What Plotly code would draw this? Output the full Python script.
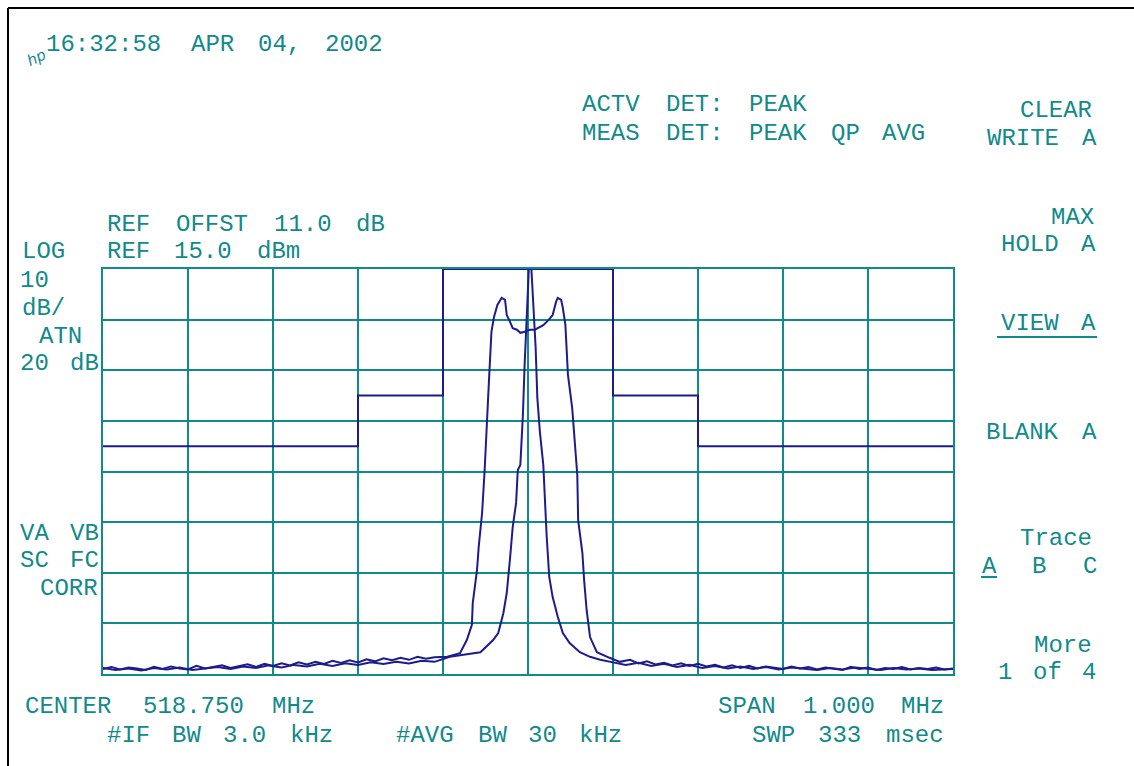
import plotly.graph_objects as go

# ---------------- data ----------------
# Limit mask (dBm) breakpoints, drawn as a step (hv)
mask_freq = [518.25, 518.55, 518.65, 518.85, 518.95, 519.25]
mask_level = [-20.0, -10.0, 15.0, -10.0, -20.0, -20.0]

# Trace 1 (wider modulated signal), MHz / dBm
sigA_freq = [518.250, 518.260, 518.270, 518.280, 518.290, 518.300, 518.310, 518.320,
             518.330, 518.340, 518.350, 518.360, 518.370, 518.380, 518.390, 518.400,
             518.410, 518.420, 518.430, 518.440, 518.450, 518.460, 518.470, 518.480,
             518.490, 518.500, 518.510, 518.520, 518.530, 518.540, 518.550, 518.560,
             518.570, 518.580, 518.590, 518.600, 518.610, 518.620, 518.630, 518.640,
             518.655, 518.670, 518.678, 518.684, 518.685, 518.690, 518.692, 518.696,
             518.699, 518.702, 518.704, 518.707, 518.710, 518.714, 518.719, 518.723,
             518.725, 518.729, 518.732, 518.737, 518.741, 518.746, 518.752, 518.758,
             518.764, 518.768, 518.774, 518.779, 518.783, 518.785, 518.789, 518.791,
             518.794, 518.797, 518.802, 518.805, 518.808, 518.809, 518.814, 518.816,
             518.819, 518.823, 518.831, 518.846, 518.858, 518.870, 518.880, 518.890,
             518.900, 518.910, 518.920, 518.930, 518.940, 518.950, 518.960, 518.970,
             518.980, 518.990, 519.000, 519.010, 519.020, 519.030, 519.040, 519.050,
             519.060, 519.070, 519.080, 519.090, 519.100, 519.110, 519.120, 519.130,
             519.140, 519.150, 519.160, 519.170, 519.180, 519.190, 519.200, 519.210,
             519.220, 519.230, 519.240, 519.250]
sigA_level = [-64.0, -63.6, -64.1, -63.7, -63.9, -64.2, -63.6, -64.0,
              -63.5, -63.9, -64.1, -63.4, -63.9, -63.6, -63.3, -63.8,
              -63.4, -63.1, -63.6, -63.0, -63.4, -62.9, -63.3, -62.7,
              -63.1, -62.6, -63.0, -62.4, -62.8, -62.3, -62.7, -62.1,
              -62.5, -61.9, -62.3, -61.8, -62.2, -61.6, -62.0, -61.7,
              -61.6, -60.9, -58.3, -55.3, -51.0, -44.5, -39.9, -33.2,
              -24.7, -15.8, -7.3, 2.6, 5.5, 7.9, 9.3, 8.9,
              5.9, 4.5, 3.3, 3.0, 2.4, 2.6, 3.0, 3.0,
              3.5, 3.9, 4.9, 5.9, 8.5, 9.3, 8.9, 7.3,
              3.9, -5.9, -12.5, -18.4, -25.7, -34.6, -41.1, -46.4,
              -52.4, -57.7, -60.7, -61.8, -62.6, -62.2, -62.9, -62.5,
              -63.1, -62.8, -63.3, -62.9, -63.4, -63.0, -63.5, -63.2,
              -63.7, -63.3, -63.8, -63.4, -63.9, -63.5, -63.7, -64.0,
              -63.5, -63.9, -63.6, -64.1, -63.7, -63.9, -64.2, -63.6,
              -64.0, -63.7, -64.2, -63.8, -64.0, -63.6, -64.1, -63.8,
              -64.0, -63.7, -64.1, -63.9]

# Trace 2 (narrow carrier), MHz / dBm
sigB_freq = [518.250, 518.265, 518.280, 518.295, 518.310, 518.325, 518.340, 518.355,
             518.370, 518.385, 518.400, 518.415, 518.430, 518.445, 518.460, 518.475,
             518.490, 518.505, 518.520, 518.535, 518.550, 518.565, 518.580, 518.595,
             518.610, 518.625, 518.640, 518.658, 518.674, 518.694, 518.709, 518.715,
             518.721, 518.725, 518.729, 518.732, 518.736, 518.738, 518.741, 518.744,
             518.746, 518.749, 518.751, 518.754, 518.756, 518.759, 518.761, 518.764,
             518.768, 518.770, 518.772, 518.775, 518.779, 518.785, 518.791, 518.799,
             518.811, 518.823, 518.835, 518.850, 518.865, 518.880, 518.895, 518.910,
             518.925, 518.940, 518.955, 518.970, 518.985, 519.000, 519.015, 519.030,
             519.045, 519.060, 519.075, 519.090, 519.105, 519.120, 519.135, 519.150,
             519.165, 519.180, 519.195, 519.210, 519.225, 519.250]
sigB_level = [-63.8, -64.2, -63.9, -64.3, -63.8, -64.1, -63.7, -64.2,
              -63.9, -63.6, -64.0, -63.5, -63.8, -63.3, -63.7, -63.2,
              -63.5, -63.0, -63.4, -62.9, -63.2, -62.7, -63.0, -62.6,
              -62.9, -62.4, -62.6, -61.6, -61.2, -60.7, -58.3, -56.9,
              -53.0, -49.0, -41.9, -36.0, -31.2, -24.7, -23.7, -13.8,
              -4.0, 5.9, 15.0, 15.0, 9.3, -0.6, -10.5, -17.2,
              -23.7, -31.2, -37.9, -45.8, -49.8, -53.7, -56.9, -58.9,
              -60.7, -61.6, -62.2, -62.7, -63.2, -62.8, -63.4, -63.0,
              -63.6, -63.2, -63.8, -63.4, -63.9, -63.5, -64.0, -63.6,
              -64.1, -63.7, -63.9, -64.2, -63.8, -64.1, -63.7, -64.0,
              -64.2, -63.8, -64.1, -63.9, -64.2, -64.0]

# axis settings (analyzer)
center_mhz = 518.75
span_mhz = 1.0
ref_dbm = 15.0
db_per_div = 10.0
n_vdiv = 8

# screen annotation lines: (text, start-x px, centre-y px)
screen_lines = [
    ("16:32:58 APR 04, 2002", 37, 45),
    ("ACTV DET: PEAK", 578, 105),
    ("MEAS DET: PEAK QP AVG", 578, 133),
    ("CLEAR", 1014, 111),
    ("WRITE A", 981, 139),
    ("MAX", 1047, 217),
    ("HOLD A", 997, 245),
    ("VIEW A", 997, 323),
    ("BLANK A", 981, 432),
    ("Trace", 1014, 538),
    ("A  B  C", 981, 566),
    ("More", 1030, 645),
    ("1 of 4", 997, 672),
    ("REF OFFST 11.0 dB", 103, 225),
    ("LOG", 18, 252),
    ("REF 15.0 dBm", 103, 252),
    ("10", 18, 280),
    ("dB/", 18, 308),
    ("ATN", 35, 336),
    ("20 dB", 18, 363),
    ("VA VB", 18, 533),
    ("SC FC", 18, 560),
    ("CORR", 36, 588),
    ("CENTER 518.750 MHz", 18, 706),
    ("SPAN 1.000 MHz", 714, 706),
    ("#IF BW 3.0 kHz", 103, 735),
    ("#AVG BW 30 kHz", 392, 735),
    ("SWP 333 msec", 748, 735),
]

# ---------------- styling ----------------
TEAL = "#118a8a"
NAVY = "#1c1c8e"
FONT = "Liberation Mono"
FSIZE = 24
ADV = 16.7  # character pitch of the analyzer screen font, px
W, H = 1134, 766
L, R, T, B = 103, 953, 269, 674


def px(x):
    return (x - L) / (R - L)


def py(y):
    return (B - y) / (B - T)


fig = go.Figure()
fig.add_trace(go.Scatter(x=mask_freq, y=mask_level, mode="lines", line_shape="hv",
                         line=dict(color=NAVY, width=2), hoverinfo="skip"))
fig.add_trace(go.Scatter(x=sigA_freq, y=sigA_level, mode="lines",
                         line=dict(color=NAVY, width=2), hoverinfo="skip"))
fig.add_trace(go.Scatter(x=sigB_freq, y=sigB_level, mode="lines",
                         line=dict(color=NAVY, width=2), hoverinfo="skip"))

x0 = center_mhz - span_mhz / 2
x1 = center_mhz + span_mhz / 2
y1 = ref_dbm
y0 = ref_dbm - n_vdiv * db_per_div

fig.update_xaxes(range=[x0, x1], tick0=x0, dtick=span_mhz / 10, showgrid=True,
                 gridcolor=TEAL, gridwidth=2, showticklabels=False, ticks="",
                 zeroline=False, showline=True, linecolor=TEAL, linewidth=2, mirror=True)
fig.update_yaxes(range=[y0, y1], tick0=y0, dtick=db_per_div, showgrid=True,
                 gridcolor=TEAL, gridwidth=2, showticklabels=False, ticks="",
                 zeroline=False, showline=True, linecolor=TEAL, linewidth=2, mirror=True)

# place each word on the analyzer's fixed character grid
for text, xs, yc in screen_lines:
    idx = 0
    for word in text.split(" "):
        if word:
            xc = xs + (idx + len(word) / 2) * ADV
            fig.add_annotation(text=word, x=px(xc), y=py(yc), xref="paper", yref="paper",
                               xanchor="center", yanchor="middle", showarrow=False,
                               font=dict(family=FONT, size=FSIZE, color=TEAL))
        idx += len(word) + 1

# underlines of the active soft keys
for ux0, ux1, uy in [(997, 1097, 337), (981, 997, 577)]:
    fig.add_shape(type="line", xref="paper", yref="paper", x0=px(ux0), x1=px(ux1),
                  y0=py(uy), y1=py(uy), line=dict(color=TEAL, width=2))

# small hp logo
fig.add_annotation(text="<i>hp</i>", x=px(36), y=py(58), xref="paper", yref="paper",
                   xanchor="center", yanchor="middle", showarrow=False, textangle=-25,
                   font=dict(family="DejaVu Sans", size=15, color=TEAL))

# frame lines of the screen capture
fig.add_shape(type="line", xref="paper", yref="paper", x0=px(8), x1=px(W), y0=py(8), y1=py(8),
              line=dict(color="black", width=2))
fig.add_shape(type="line", xref="paper", yref="paper", x0=px(8), x1=px(8), y0=py(8), y1=py(H),
              line=dict(color="black", width=2))

fig.update_layout(width=W, height=H, autosize=False,
                  margin=dict(l=L, r=W - R, t=T, b=H - B, pad=0),
                  paper_bgcolor="white", plot_bgcolor="white", showlegend=False)

fig.write_html("out.html", config={"displayModeBar": False},
               post_script="document.body.style.margin='0';document.body.style.overflow='hidden';")
